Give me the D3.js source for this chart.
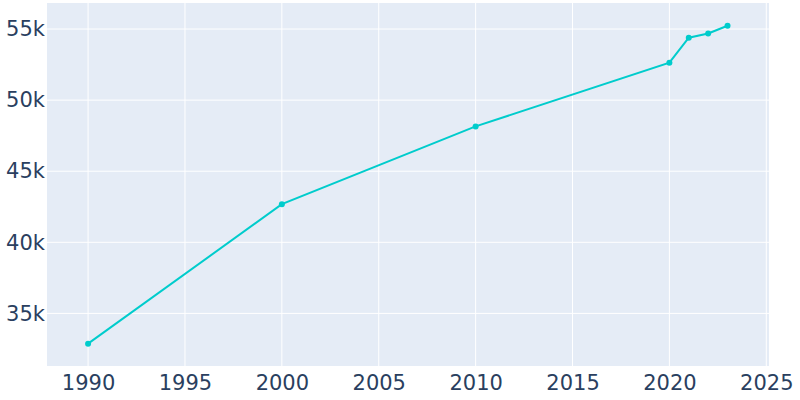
<!DOCTYPE html>
<html>
<head>
<meta charset="utf-8">
<script src="https://cdn.jsdelivr.net/npm/d3@7"></script>
<style>
  body { margin: 0; background: #fff; }
  svg text { font-family: "DejaVu Sans", Verdana, sans-serif; }
</style>
</head>
<body>
<svg id="drawing_region"></svg>
<script>
const years = [1990, 2000, 2010, 2020, 2021, 2022, 2023];
const population = [32870, 42680, 48150, 52630, 54390, 54690, 55230];
const xTicks = [1990, 1995, 2000, 2005, 2010, 2015, 2020, 2025];
const yTicks = [35000, 40000, 45000, 50000, 55000];

const config = {
  width: 800,
  height: 400,
  margin: { top: 3, right: 31, bottom: 34, left: 47 },
};

const svg = d3.select("#drawing_region")
  .attr("width", config.width)
  .attr("height", config.height);

const innerWidth = config.width - config.margin.left - config.margin.right;
const innerHeight = config.height - config.margin.top - config.margin.bottom;

const chart = svg.append("g")
  .attr("transform", `translate(${config.margin.left}, ${config.margin.top})`);

const xscale = d3.scaleLinear().domain([1987.88, 2025.14]).range([0, innerWidth]);
const yscale = d3.scaleLinear().domain([31300, 56830]).range([innerHeight, 0]);

chart.append("rect")
  .attr("width", innerWidth)
  .attr("height", innerHeight)
  .attr("fill", "#e5ecf6");

// grid lines
chart.append("g")
  .selectAll("line")
  .data(xTicks)
  .join("line")
  .attr("x1", (d) => xscale(d))
  .attr("x2", (d) => xscale(d))
  .attr("y1", 0)
  .attr("y2", innerHeight)
  .attr("stroke", "#fff")
  .attr("stroke-width", 1);

chart.append("g")
  .selectAll("line")
  .data(yTicks)
  .join("line")
  .attr("x1", 0)
  .attr("x2", innerWidth)
  .attr("y1", (d) => yscale(d))
  .attr("y2", (d) => yscale(d))
  .attr("stroke", "#fff")
  .attr("stroke-width", 1);

// axes (labels only)
const xaxis = d3.axisBottom(xscale).tickValues(xTicks).tickSize(0).tickPadding(9)
  .tickFormat(d3.format("d"));
const xg = chart.append("g")
  .attr("transform", `translate(0, ${innerHeight})`)
  .call(xaxis);

const yaxis = d3.axisLeft(yscale).tickValues(yTicks).tickSize(0).tickPadding(2)
  .tickFormat((d) => d / 1000 + "k");
const yg = chart.append("g").call(yaxis);

[xg, yg].forEach((g) => {
  g.select(".domain").remove();
  g.selectAll("text")
    .attr("fill", "#2a3f5f")
    .attr("font-size", "21px")
    .attr("font-family", "'DejaVu Sans', Verdana, sans-serif");
});

const data = years.map((y, i) => ({ x: y, y: population[i] }));

const line = d3.line()
  .x((d) => xscale(d.x))
  .y((d) => yscale(d.y));

chart.append("path")
  .datum(data)
  .attr("d", line)
  .attr("fill", "none")
  .attr("stroke", "#00cccc")
  .attr("stroke-width", 2);

chart.selectAll("circle")
  .data(data)
  .join("circle")
  .attr("cx", (d) => xscale(d.x))
  .attr("cy", (d) => yscale(d.y))
  .attr("r", 3)
  .attr("fill", "#00cccc");
</script>
</body>
</html>
